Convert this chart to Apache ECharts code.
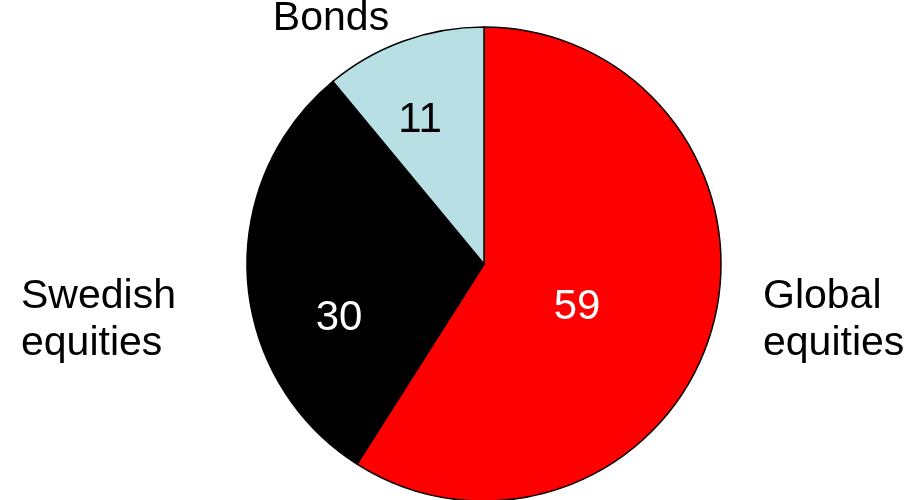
<!DOCTYPE html>
<html>
<head>
<meta charset="utf-8">
<script src="https://cdn.jsdelivr.net/npm/echarts@6/dist/echarts.min.js"></script>
<style>
html,body{margin:0;padding:0;background:#fff;}
#chart{width:917px;height:500px;}
</style>
</head>
<body>
<div id="chart"></div>
<script>
// Data
const categories = ['Global equities', 'Swedish equities', 'Bonds'];
const categoryLabels = ['Global\nequities', 'Swedish\nequities', 'Bonds'];
const values = [59, 30, 11];
const colors = ['#ff0000', '#000000', '#b8dfe3'];
const valueTextColors = ['#ffffff', '#ffffff', '#000000'];

// Label placement (layout only)
const valuePos = [[577, 307], [339, 318], [420, 120]];
const namePos = [[763, 320], [21, 320], [331, 19]];
const nameAlign = ['left', 'left', 'center'];

const FONT = '"Liberation Sans", Arial, sans-serif';

const chart = echarts.init(document.getElementById('chart'), null, {renderer: 'canvas'});

const graphics = [];
categories.forEach((c, i) => {
  graphics.push({
    type: 'text', x: valuePos[i][0], y: valuePos[i][1], z: 100,
    style: {text: String(values[i]), fill: valueTextColors[i], font: '42px ' + FONT,
            textAlign: 'center', textVerticalAlign: 'middle'}
  });
  graphics.push({
    type: 'text', x: namePos[i][0], y: namePos[i][1], z: 100,
    style: {text: categoryLabels[i], fill: '#000', font: '41px ' + FONT, lineHeight: 47,
            textAlign: nameAlign[i], textVerticalAlign: 'middle'}
  });
});

chart.setOption({
  backgroundColor: '#ffffff',
  animation: false,
  graphic: graphics,
  series: [{
    type: 'pie',
    center: [484, 264],
    radius: 237,
    startAngle: 90,
    clockwise: true,
    label: {show: false},
    labelLine: {show: false},
    emphasis: {disabled: true},
    itemStyle: {borderColor: '#000', borderWidth: 1.5},
    data: categories.map((c, i) => ({name: c, value: values[i], itemStyle: {color: colors[i]}}))
  }]
});
</script>
</body>
</html>
